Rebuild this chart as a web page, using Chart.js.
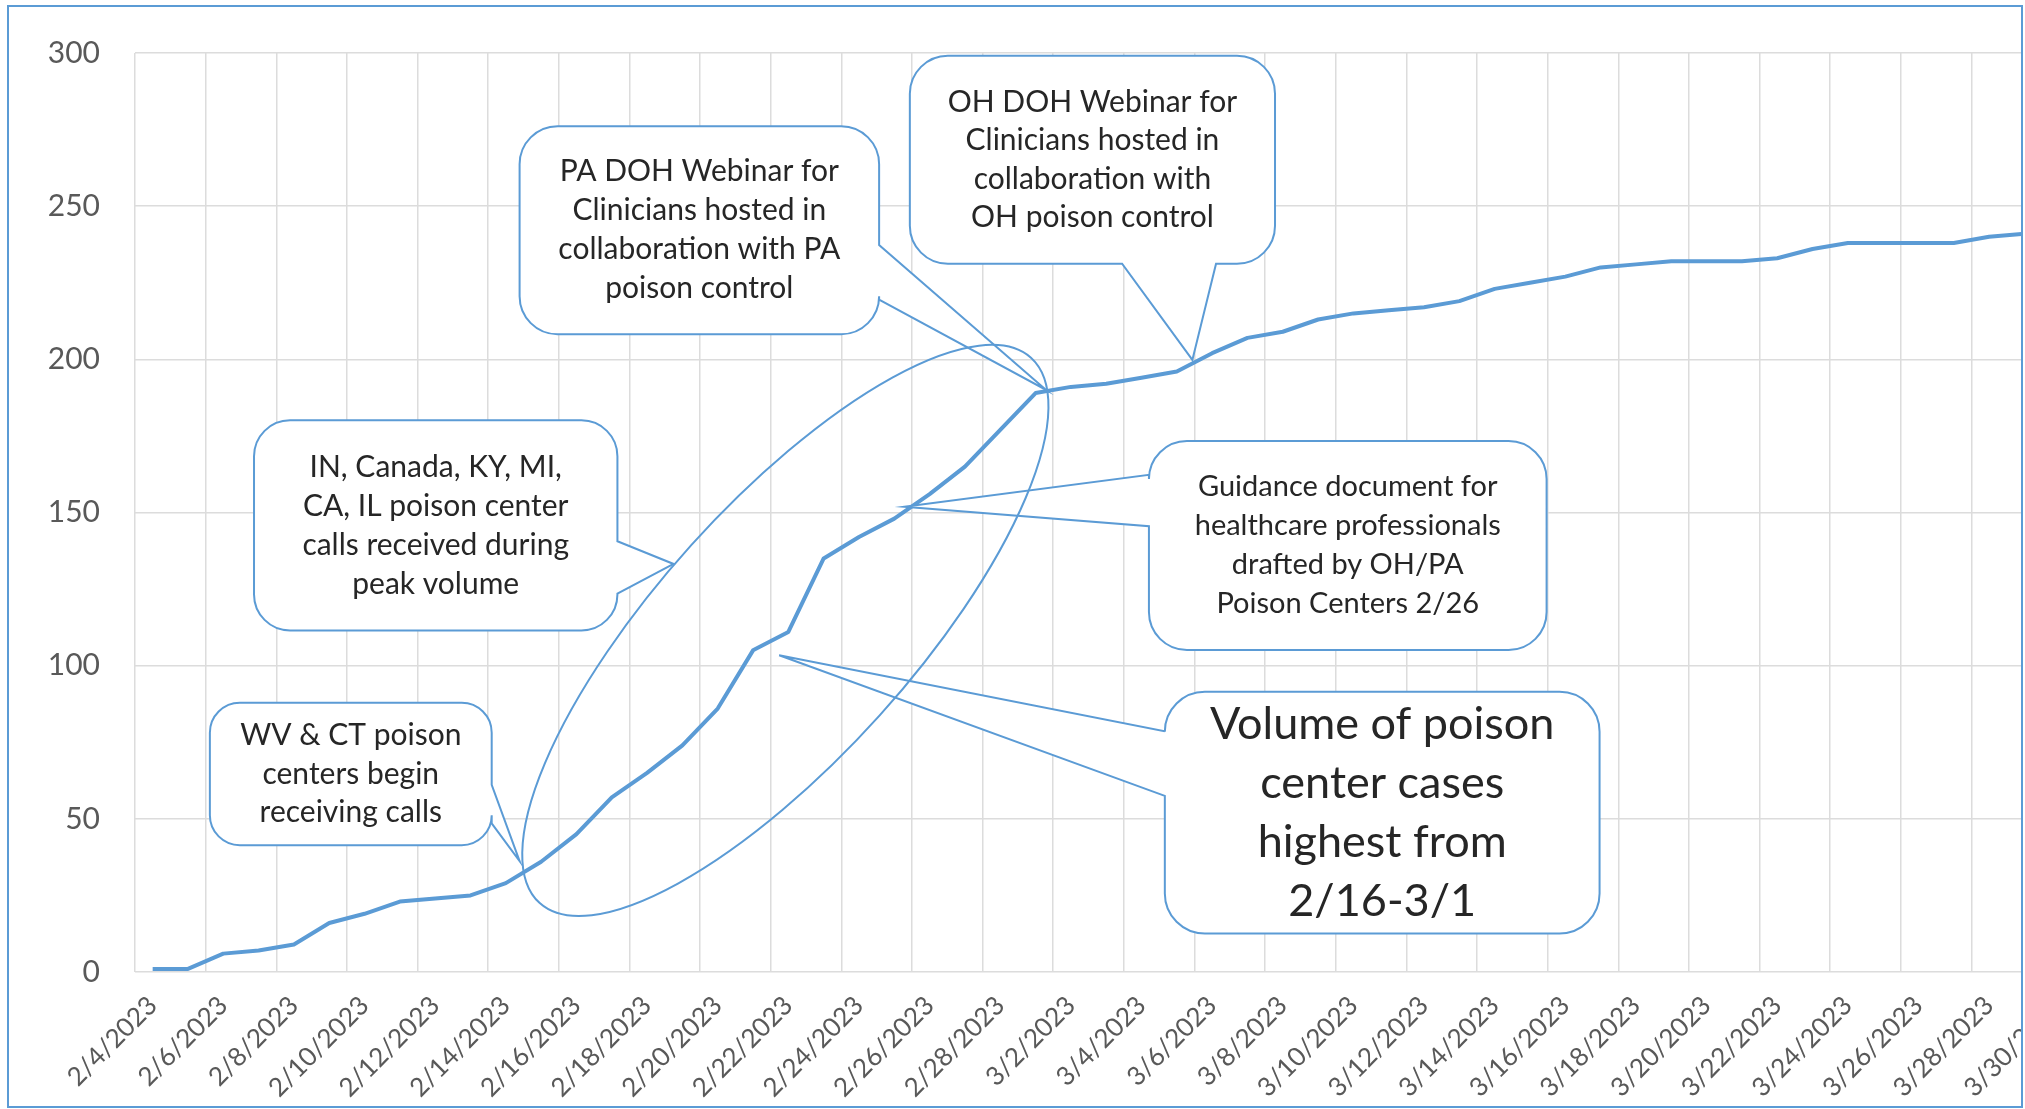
<!DOCTYPE html>
<html>
<head>
<meta charset="utf-8">
<script src="https://cdn.jsdelivr.net/npm/chart.js@4.4.0/dist/chart.umd.min.js"></script>
<style>
  html, body { margin: 0; padding: 0; background: #fff; }
  #clip { position: absolute; left: 0; top: 0; width: 2023px; height: 1108px; overflow: hidden; }
  #frame { position: absolute; left: 7px; top: 5px; width: 2016px; height: 1103px;
           border: 2px solid #5b9bd5; box-sizing: border-box; pointer-events: none; }
</style>
</head>
<body>
<div id="clip"><canvas id="casesChart" width="2100" height="1109"></canvas></div>
<div id="frame"></div>
<script>
// daily categories, 2/4/2023 .. 3/30/2023
const days = [
  '2/4/2023', '2/5/2023', '2/6/2023', '2/7/2023', '2/8/2023', '2/9/2023', '2/10/2023',
  '2/11/2023', '2/12/2023', '2/13/2023', '2/14/2023', '2/15/2023', '2/16/2023', '2/17/2023',
  '2/18/2023', '2/19/2023', '2/20/2023', '2/21/2023', '2/22/2023', '2/23/2023', '2/24/2023',
  '2/25/2023', '2/26/2023', '2/27/2023', '2/28/2023', '3/1/2023', '3/2/2023', '3/3/2023',
  '3/4/2023', '3/5/2023', '3/6/2023', '3/7/2023', '3/8/2023', '3/9/2023', '3/10/2023',
  '3/11/2023', '3/12/2023', '3/13/2023', '3/14/2023', '3/15/2023', '3/16/2023', '3/17/2023',
  '3/18/2023', '3/19/2023', '3/20/2023', '3/21/2023', '3/22/2023', '3/23/2023', '3/24/2023',
  '3/25/2023', '3/26/2023', '3/27/2023', '3/28/2023', '3/29/2023', '3/30/2023'
];

// cumulative poison center cases
const cases = [
  1, 1, 6, 7, 9, 16, 19,
  23, 24, 25, 29, 36, 45, 57,
  65, 74, 86, 105, 111, 135, 142,
  148, 156, 165, 177, 189, 191, 192,
  194, 196, 202, 207, 209, 213, 215,
  216, 217, 219, 223, 225, 227, 230,
  231, 232, 232, 232, 233, 236, 238,
  238, 238, 238, 240, 241, 242
];

const yTicks = [0, 50, 100, 150, 200, 250, 300];

const blue = '#5b9bd5';
const gridGrey = '#dcdcdc';
const tickGrey = '#595959';

// callout boxes, anchored in axis units (day index, case count)
const notes = [
  { lines: ['PA DOH Webinar for', 'Clinicians hosted in', 'collaboration with PA', 'poison control'],
    box: [10.39, 20.57, 276.1, 208.2], side: 'right', base: [237.3, 219.5], tip: [25.3, 190],
    size: 30, lead: 39, radius: 38 },
  { lines: ['OH DOH Webinar for', 'Clinicians hosted in', 'collaboration with', 'OH poison control'],
    box: [21.44, 31.78, 299.1, 231.2], side: 'bottom', base: [27.45, 30.11], tip: [29.44, 199.8],
    size: 30, lead: 38.5, radius: 38 },
  { lines: ['IN, Canada, KY, MI,', 'CA, IL poison center', 'calls received during', 'peak volume'],
    box: [2.87, 13.16, 180.1, 111.5], side: 'right', base: [140.6, 123.5], tip: [14.75, 133.2],
    size: 30, lead: 39, radius: 36 },
  { lines: ['WV & CT poison', 'centers begin', 'receiving calls'],
    box: [1.62, 9.6, 87.9, 41.4], side: 'right', base: [61.1, 48.5], tip: [10.39, 36.2],
    size: 30, lead: 38.5, radius: 30 },
  { lines: ['Guidance document for', 'healthcare professionals', 'drafted by OH/PA', 'Poison Centers 2/26'],
    box: [28.21, 39.47, 173.3, 105.1], side: 'left', base: [162.3, 145.5], tip: [21.28, 151.9],
    size: 29, lead: 39, radius: 38 },
  { lines: ['Volume of poison', 'center cases', 'highest from', '2/16-3/1'],
    box: [28.66, 40.97, 91.5, 12.6], side: 'left', base: [78.6, 57.5], tip: [17.74, 103.4],
    size: 45, lead: 59, radius: 40 }
];

// ellipse around the peak: ends of its long axis, and short/long ratio
const peakRing = { from: [10.96, 22.5], to: [24.87, 200.5], ratio: 0.346 };

function calloutPath(ctx, x1, y1, x2, y2, r, side, b, tip) {
  ctx.beginPath();
  ctx.moveTo(x1 + r, y1);
  ctx.lineTo(x2 - r, y1);
  ctx.arcTo(x2, y1, x2, y1 + r, r);
  if (side === 'right') {
    ctx.lineTo(x2, b[0]); ctx.lineTo(tip[0], tip[1]); ctx.lineTo(x2, b[1]);
  }
  ctx.lineTo(x2, y2 - r);
  ctx.arcTo(x2, y2, x2 - r, y2, r);
  if (side === 'bottom') {
    ctx.lineTo(b[1], y2); ctx.lineTo(tip[0], tip[1]); ctx.lineTo(b[0], y2);
  }
  ctx.lineTo(x1 + r, y2);
  ctx.arcTo(x1, y2, x1, y2 - r, r);
  if (side === 'left') {
    ctx.lineTo(x1, b[1]); ctx.lineTo(tip[0], tip[1]); ctx.lineTo(x1, b[0]);
  }
  ctx.lineTo(x1, y1 + r);
  ctx.arcTo(x1, y1, x1 + r, y1, r);
  ctx.closePath();
}

const calloutPlugin = {
  id: 'callouts',
  afterDatasetsDraw(chart) {
    const ctx = chart.ctx;
    const xs = chart.scales.x, ys = chart.scales.y;
    const px = d => xs.getPixelForValue(d);
    const py = v => ys.getPixelForValue(v);
    ctx.save();
    notes.forEach(n => {
      const x1 = px(n.box[0]), x2 = px(n.box[1]);
      const y1 = py(n.box[2]), y2 = py(n.box[3]);
      const b = n.side === 'bottom' ? n.base.map(px) : n.base.map(py);
      calloutPath(ctx, x1, y1, x2, y2, n.radius, n.side, b, [px(n.tip[0]), py(n.tip[1])]);
      ctx.fillStyle = '#fff';
      ctx.fill();
      ctx.lineWidth = 2;
      ctx.strokeStyle = blue;
      ctx.lineJoin = 'miter';
      ctx.stroke();
      ctx.fillStyle = '#262626';
      ctx.font = n.size + 'px Lato';
      ctx.textAlign = 'center';
      ctx.textBaseline = 'middle';
      const cx = (x1 + x2) / 2, cy = (y1 + y2) / 2;
      n.lines.forEach((t, i) => {
        ctx.fillText(t, cx, cy + (i - (n.lines.length - 1) / 2) * n.lead);
      });
    });
    // the ring
    const ax = px(peakRing.from[0]), ay = py(peakRing.from[1]);
    const bx = px(peakRing.to[0]), by = py(peakRing.to[1]);
    const half = Math.hypot(bx - ax, by - ay) / 2;
    ctx.beginPath();
    ctx.ellipse((ax + bx) / 2, (ay + by) / 2, half, half * peakRing.ratio,
                Math.atan2(by - ay, bx - ax), 0, Math.PI * 2);
    ctx.lineWidth = 2;
    ctx.strokeStyle = blue;
    ctx.stroke();
    ctx.restore();
  }
};

const ctx = document.getElementById('casesChart');

new Chart(ctx, {
  type: 'line',
  data: {
    labels: days,
    datasets: [{
      label: 'Cases',
      data: cases,
      borderColor: blue,
      borderWidth: 4,
      pointRadius: 0,
      tension: 0,
      borderJoinStyle: 'round'
    }]
  },
  options: {
    responsive: false,
    animation: false,
    layout: { padding: { left: 8, top: 44, right: 21, bottom: 0 } },
    plugins: { legend: { display: false }, tooltip: { enabled: false } },
    scales: {
      x: {
        offset: true,
        grid: {
          offset: true,
          drawTicks: false,
          lineWidth: 1.5,
          color: c => c.index % 2 === 0 ? gridGrey : 'rgba(0,0,0,0)'
        },
        border: { display: false },
        ticks: {
          autoSkip: false,
          minRotation: 45,
          maxRotation: 45,
          padding: 18,
          color: tickGrey,
          font: { family: 'Lato', size: 26 },
          callback: (v, i) => i % 2 === 0 ? days[i] : ''
        },
        afterFit: s => { s.height = 137; }
      },
      y: {
        min: yTicks[0],
        max: yTicks[yTicks.length - 1],
        afterBuildTicks: s => { s.ticks = yTicks.map(v => ({ value: v })); },
        grid: { drawTicks: false, lineWidth: 1.5, color: gridGrey },
        border: { display: false },
        ticks: {
          padding: 35,
          color: tickGrey,
          font: { family: 'Lato', size: 30 }
        },
        afterFit: s => { s.width = 127; }
      }
    }
  },
  plugins: [calloutPlugin]
});
</script>
</body>
</html>
